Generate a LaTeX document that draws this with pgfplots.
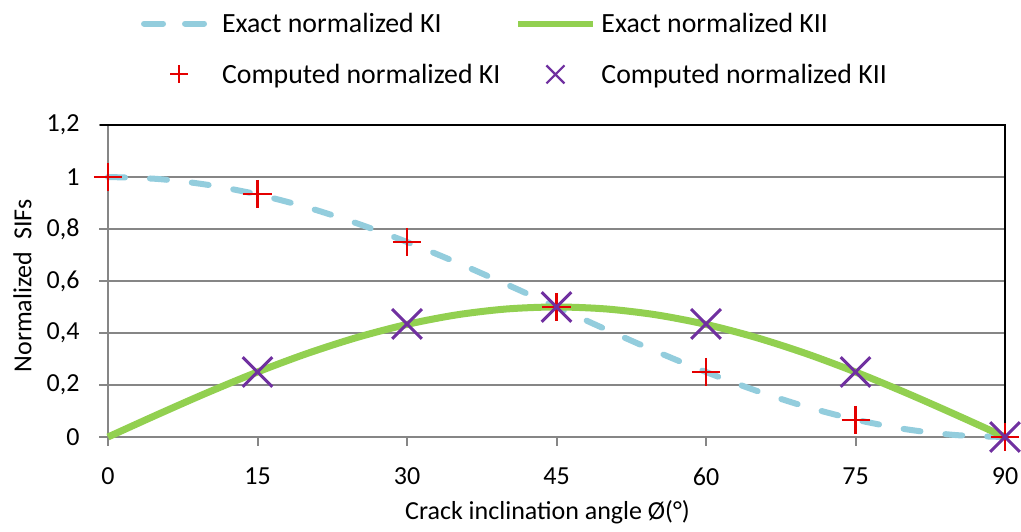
\documentclass[border=0pt]{standalone}
\usepackage{pgfplots}
\pgfplotsset{compat=1.18}
\usepackage{fontspec}
\setmainfont{Carlito}
\definecolor{kiblue}{RGB}{147,205,221}
\definecolor{kiigreen}{RGB}{146,208,80}
\definecolor{cred}{RGB}{228,0,0}
\definecolor{cpurple}{RGB}{112,48,160}
\definecolor{axgray}{RGB}{134,134,134}
\begin{document}
\begin{tikzpicture}
\useasboundingbox (0,0) rectangle (1021pt,532pt);
\begin{axis}[
  at={(108pt,95pt)}, anchor=south west,
  scale only axis, width=897pt, height=312pt,
  xmin=0, xmax=90, ymin=0, ymax=1.2,
  xtick={0,15,30,45,60,75,90},
  ytick={0,0.2,0.4,0.6,0.8,1,1.2},
  axis x line*=bottom, axis y line*=left,
  axis line style={axgray, line width=2pt},
  tick align=outside, major tick length=9pt,
  tick style={axgray, line width=2pt},
  ymajorgrids, grid style={axgray, line width=1.8pt},
  /pgf/number format/.cd, use comma, assume math mode=true, /pgfplots/.cd,
  ticklabel style={font=\fontsize{26}{30}\selectfont, text=black},
  xticklabel shift=18pt,
  yticklabel shift=16pt,
  xlabel={Crack inclination angle Ø(°)},
  ylabel={Normalized~~SIFs},
  label style={font=\fontsize{26}{30}\selectfont},
  xlabel style={at={(axis description cs:0.49,-0.242)}, anchor=center},
  ylabel style={at={(axis description cs:-0.0953,0.484)}, anchor=center},
  clip=false,
  legend columns=2,
  legend style={at={(axis description cs:0.0366,1.359)}, anchor=north west,
    draw=none, inner sep=0pt, font=\fontsize{27.8}{32}\selectfont,
    nodes={inner sep=0pt},
    /tikz/row sep=30pt,
    /tikz/column 1/.append style={column sep=13pt},
    /tikz/column 2/.append style={column sep=15pt},
    /tikz/column 3/.append style={column sep=5pt}},
  legend cell align=left,
]
\addplot[kiblue, line width=6pt, line cap=round, dash pattern=on 17pt off 25pt, smooth,
  legend image code/.code={
    \path[draw=none, fill=none] (0pt,-8pt) rectangle (68pt,8pt);
    \draw[kiblue, line width=6pt, line cap=round, dash pattern=on 19pt off 22pt] (3pt,0pt) -- (65pt,0pt);}]
table {
x y
0 1
5 0.99240
10 0.96985
15 0.93301
20 0.88302
25 0.82139
30 0.75
35 0.67101
40 0.58682
45 0.5
50 0.41318
55 0.32899
60 0.25
65 0.17861
70 0.11698
75 0.06699
80 0.03015
85 0.00760
90 0
};
\addlegendentry{Exact normalized KI}
\addplot[kiigreen, line width=7pt, smooth,
  legend image code/.code={
    \path[draw=none, fill=none] (0pt,-8pt) rectangle (75pt,8pt);
    \draw[kiigreen, line width=6pt] (0pt,0pt) -- (75pt,0pt);}]
table {
x y
0 0
5 0.08682
10 0.17101
15 0.25
20 0.32139
25 0.38302
30 0.43301
35 0.46985
40 0.49240
45 0.5
50 0.49240
55 0.46985
60 0.43301
65 0.38302
70 0.32139
75 0.25
80 0.17101
85 0.08682
90 0
};
\addlegendentry{Exact normalized KII}
\addplot[only marks, mark=+, mark size=14pt, mark options={cred, line width=2.5pt},
  legend image code/.code={
    \path[draw=none, fill=none] (0pt,-8pt) rectangle (68pt,8pt);
    \path plot[mark=+, mark size=9pt, mark options={draw=cred, line width=2.2pt}] coordinates {(38pt,0pt)};}]
table {
x y
0 1
15 0.935
30 0.75
45 0.5
60 0.25
75 0.066
90 0
};
\addlegendentry{Computed normalized KI}
\addplot[only marks, mark=x, mark size=21pt, mark options={cpurple, line width=3pt},
  legend image code/.code={
    \path[draw=none, fill=none] (0pt,-8pt) rectangle (75pt,8pt);
    \path plot[mark=x, mark size=12.7pt, mark options={draw=cpurple, line width=2.2pt}] coordinates {(37pt,0pt)};}]
table {
x y
15 0.25
30 0.435
45 0.5
60 0.435
75 0.25
90 0
};
\addlegendentry{Computed normalized KII}
\draw[black, line width=2.5pt] (rel axis cs:0,1) ++(-8pt,0) -- (rel axis cs:1,1) -- (rel axis cs:1,0);
\end{axis}
\end{tikzpicture}
\end{document}
